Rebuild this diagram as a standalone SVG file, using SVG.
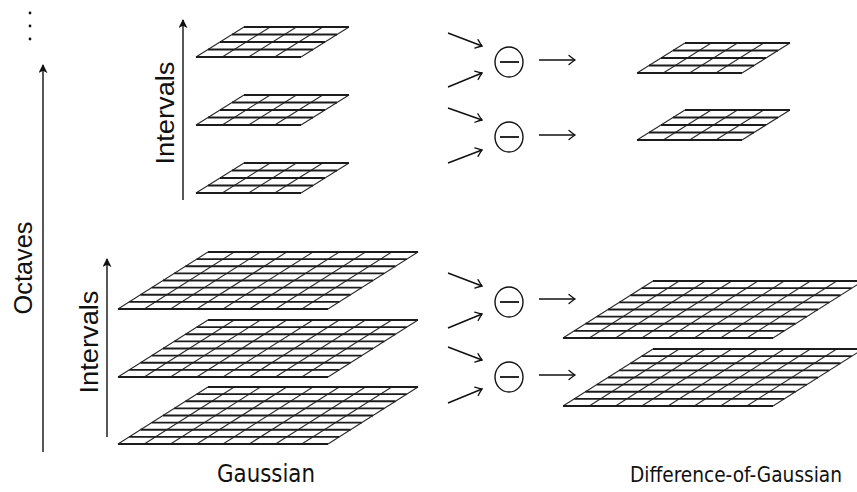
<svg xmlns="http://www.w3.org/2000/svg" xmlns:xlink="http://www.w3.org/1999/xlink" width="857" height="492" viewBox="0 0 857 492">
  <style>
    .grid-fill { fill: #ffffff; stroke: none; }
    .grid-row { fill: none; stroke: #1c1c1c; stroke-width: 1.8; }
    .grid-col { fill: none; stroke: #2a2a2a; stroke-width: 1.1; }
    .axis { fill: none; stroke: #111; stroke-width: 1.4; }
    .flow { fill: none; stroke: #111; stroke-width: 1.5; }
    .op { fill: none; stroke: #111; stroke-width: 1.4; }
    .minus { stroke: #111; stroke-width: 1.8; }
    .label { font-family: "Liberation Sans", Arial, sans-serif; fill: #111; }
    .caption { font-family: "DejaVu Sans Condensed", "DejaVu Sans", "Liberation Sans", sans-serif; fill: #111; }
  </style>
  <defs>
    <marker id="axisHead" viewBox="0 0 10 10" refX="9" refY="5" markerWidth="9" markerHeight="9" markerUnits="userSpaceOnUse" orient="auto">
      <path d="M0 0 L10 5 L0 10 L2.5 5 Z" fill="#111"/>
    </marker>
    <marker id="flowHead" viewBox="-8 -6 10 12" refX="0" refY="0" markerWidth="10" markerHeight="12" markerUnits="userSpaceOnUse" orient="auto">
      <path d="M-6 -4.5 Q-2 -1.2 0 0 Q-2 1.2 -6 4.5" fill="none" stroke="#111" stroke-width="1.3" stroke-linecap="round"/>
    </marker>
    <!-- 8x8 sheared grid, anchored at its bottom-left corner -->
    <g id="bigGrid">
      <polygon class="grid-fill" points="0,0 210,0 300,-57 90,-57"/>
      <path class="grid-col" d="M0 0 L90 -57 M26.25 0 L116.25 -57 M52.5 0 L142.5 -57 M78.75 0 L168.75 -57 M105 0 L195 -57 M131.25 0 L221.25 -57 M157.5 0 L247.5 -57 M183.75 0 L273.75 -57 M210 0 L300 -57"/>
      <path class="grid-row" d="M0 0 H210 M11.25 -7.125 H221.25 M22.5 -14.25 H232.5 M33.75 -21.375 H243.75 M45 -28.5 H255 M56.25 -35.625 H266.25 M67.5 -42.75 H277.5 M78.75 -49.875 H288.75 M90 -57 H300"/>
    </g>
    <!-- 4x4 sheared grid, anchored at its bottom-left corner -->
    <g id="smallGrid">
      <polygon class="grid-fill" points="0,0 105,0 153,-30 48,-30"/>
      <path class="grid-col" d="M0 0 L48 -30 M26.25 0 L74.25 -30 M52.5 0 L100.5 -30 M78.75 0 L126.75 -30 M105 0 L153 -30"/>
      <path class="grid-row" d="M0 0 H105 M12 -7.5 H117 M24 -15 H129 M36 -22.5 H141 M48 -30 H153"/>
    </g>
  </defs>

  <rect width="857" height="492" fill="#ffffff"/>

  <!-- Gaussian stack, higher octave -->
  <g id="gauss-o2-s3"><use xlink:href="#smallGrid" transform="translate(196,57)"/></g>
  <g id="gauss-o2-s2"><use xlink:href="#smallGrid" transform="translate(196,125)"/></g>
  <g id="gauss-o2-s1"><use xlink:href="#smallGrid" transform="translate(196,193)"/></g>

  <!-- Gaussian stack, first octave -->
  <g id="gauss-o1-s3"><use xlink:href="#bigGrid" transform="translate(118,309)"/></g>
  <g id="gauss-o1-s2"><use xlink:href="#bigGrid" transform="translate(118,377)"/></g>
  <g id="gauss-o1-s1"><use xlink:href="#bigGrid" transform="translate(118,444)"/></g>

  <!-- Difference-of-Gaussian results -->
  <g id="dog-o2-2"><use xlink:href="#smallGrid" transform="translate(637,73)"/></g>
  <g id="dog-o2-1"><use xlink:href="#smallGrid" transform="translate(637,140)"/></g>
  <g id="dog-o1-2"><use xlink:href="#bigGrid" transform="translate(563,338)"/></g>
  <g id="dog-o1-1"><use xlink:href="#bigGrid" transform="translate(563,406)"/></g>

  <!-- subtraction operators -->
  <g id="sub-o2-2">
    <ellipse class="op" cx="509" cy="62" rx="14" ry="15"/>
    <line class="minus" x1="500" y1="62" x2="519" y2="62"/>
  </g>
  <g id="sub-o2-1">
    <ellipse class="op" cx="509" cy="137" rx="14" ry="15"/>
    <line class="minus" x1="500" y1="137" x2="519" y2="137"/>
  </g>
  <g id="sub-o1-2">
    <ellipse class="op" cx="509" cy="302" rx="14" ry="15"/>
    <line class="minus" x1="500" y1="302" x2="519" y2="302"/>
  </g>
  <g id="sub-o1-1">
    <ellipse class="op" cx="509" cy="377" rx="14" ry="15"/>
    <line class="minus" x1="500" y1="377" x2="519" y2="377"/>
  </g>

  <!-- connectors -->
  <g id="connectors">
    <line class="axis" x1="43" y1="452" x2="43" y2="65" marker-end="url(#axisHead)"/>
    <line class="axis" x1="107" y1="437" x2="107" y2="259" marker-end="url(#axisHead)"/>
    <line class="axis" x1="183" y1="200" x2="183" y2="20" marker-end="url(#axisHead)"/>

    <line class="flow" x1="448" y1="33" x2="482" y2="46" marker-end="url(#flowHead)"/>
    <line class="flow" x1="448" y1="87" x2="482" y2="73" marker-end="url(#flowHead)"/>
    <line class="flow" x1="539" y1="60" x2="575" y2="60" marker-end="url(#flowHead)"/>

    <line class="flow" x1="448" y1="108" x2="482" y2="120" marker-end="url(#flowHead)"/>
    <line class="flow" x1="448" y1="163" x2="482" y2="150" marker-end="url(#flowHead)"/>
    <line class="flow" x1="539" y1="135" x2="575" y2="135" marker-end="url(#flowHead)"/>

    <line class="flow" x1="448" y1="273" x2="482" y2="286" marker-end="url(#flowHead)"/>
    <line class="flow" x1="448" y1="328" x2="482" y2="314" marker-end="url(#flowHead)"/>
    <line class="flow" x1="539" y1="299" x2="575" y2="299" marker-end="url(#flowHead)"/>

    <line class="flow" x1="448" y1="347" x2="482" y2="360" marker-end="url(#flowHead)"/>
    <line class="flow" x1="448" y1="403" x2="482" y2="389" marker-end="url(#flowHead)"/>
    <line class="flow" x1="539" y1="375" x2="575" y2="375" marker-end="url(#flowHead)"/>
  </g>

  <!-- vertical ellipsis above the octave axis -->
  <g id="more-octaves" fill="#111">
    <circle cx="30" cy="13" r="1.4"/>
    <circle cx="30" cy="26" r="1.4"/>
    <circle cx="30" cy="39" r="1.4"/>
  </g>

  <!-- labels -->
  <g id="labels">
    <text class="label" font-size="25" text-anchor="middle" textLength="93" lengthAdjust="spacingAndGlyphs" transform="translate(32,268) rotate(-90)">Octaves</text>
    <text class="label" font-size="25" text-anchor="middle" textLength="103" lengthAdjust="spacingAndGlyphs" transform="translate(174,113) rotate(-90)">Intervals</text>
    <text class="label" font-size="25" text-anchor="middle" textLength="103" lengthAdjust="spacingAndGlyphs" transform="translate(98,342) rotate(-90)">Intervals</text>
    <text class="caption" font-size="24" x="217" y="482" textLength="98" lengthAdjust="spacingAndGlyphs">Gaussian</text>
    <text class="caption" font-size="22" x="842" y="482" text-anchor="end" textLength="212" lengthAdjust="spacingAndGlyphs">Difference-of-Gaussian</text>
  </g>
</svg>
